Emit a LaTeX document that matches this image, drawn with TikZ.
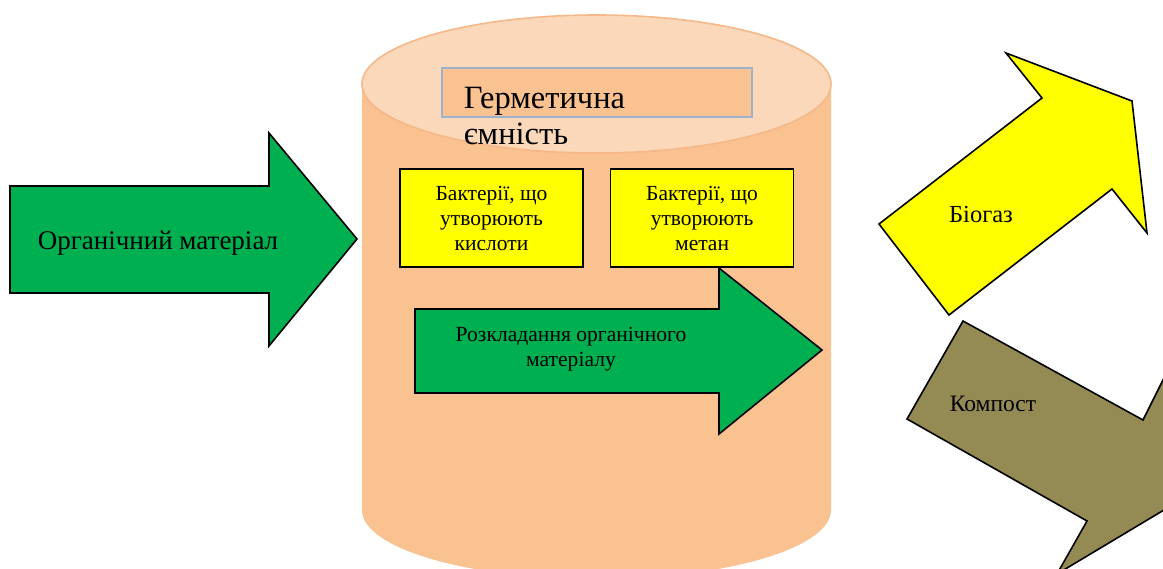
\documentclass[tikz,border=0pt]{standalone}
\usepackage{fontspec}
\setmainfont{Liberation Serif}
\usetikzlibrary{positioning}
\definecolor{cgreen}{HTML}{00B050}
\definecolor{cyellow}{HTML}{FFFF00}
\definecolor{colive}{HTML}{948A54}
\definecolor{cpeach}{HTML}{F9C290}
\definecolor{cpeachlt}{HTML}{FBD8BA}
\definecolor{crim}{HTML}{F6B888}
\definecolor{cframe}{HTML}{9DB2CC}
\tikzset{
  every picture/.style={font=\rmfamily, line width=1.6pt},
  flow/.style={draw=black, fill=#1, line join=miter},
  flow/.default=cgreen,
  bacbox/.style={draw=black, fill=cyellow, align=center, minimum width=183pt, minimum height=98pt, inner sep=0pt, font=\fontsize{21.5}{25}\selectfont},
  caption/.style={align=center, inner sep=0pt, font=\fontsize{21.6}{25}\selectfont},
}

\begin{document}
\begin{tikzpicture}[x=1pt, y=-1pt]
  \useasboundingbox (0,0) rectangle (1163,569);
  \clip (0,0) rectangle (1163,569);
  % input arrow
  \draw[flow] (10,186) -- (269,186) -- (269,133) -- (357,239) -- (269,346) -- (269,293) -- (10,293) -- cycle;
  \node[font=\fontsize{27}{30}\selectfont] (organic) at (158,243) {Органічний матеріал};
  % sealed tank
  \fill[cpeach] (362,84) -- (362,510) arc[start angle=180, end angle=0, x radius=234.5, y radius=69] -- (831,84) -- cycle;
  \draw[crim, fill=cpeachlt] (596.5,84) ellipse[x radius=234.5, y radius=69];
  \node[draw=cframe, fill=cpeach, line width=1.3pt, minimum width=310pt, minimum height=49pt, inner sep=0pt] (tankframe) at (597,92.5) {};
  \node[anchor=north west, align=left, inner sep=0pt, font=\fontsize{32.5}{36}\selectfont] (tanktext) at (463,86) {Герметична\\ємність};
  \node[bacbox] (acidbac) at (491.5,218.3) {Бактерії, що\\утворюють\\кислоти};
  \node[bacbox, right=26pt of acidbac] (methbac) {Бактерії, що\\утворюють\\метан};
  % decomposition arrow
  \draw[flow] (415,309) -- (719,309) -- (719,268) -- (822,350) -- (719,434) -- (719,393) -- (415,393) -- cycle;
  \node[caption, anchor=north] (decomp) at (571,326) {Розкладання органічного\\матеріалу};
  % outputs
  \draw[flow=cyellow] (879,224) -- (949,315) -- (1112,189) -- (1147,233) -- (1132,101) -- (1006,53) -- (1042,98) -- cycle;
  \node[font=\fontsize{24.5}{26}\selectfont] (biogas) at (981,215) {Біогаз};
  \draw[flow=colive] (963,321) -- (907,419) -- (1087,521) -- (1057,574) -- (1174,504) -- (1170,366) -- (1143,420) -- cycle;
  \node[font=\fontsize{23.5}{26}\selectfont] (compost) at (993,404) {Компост};
\end{tikzpicture}
\end{document}
